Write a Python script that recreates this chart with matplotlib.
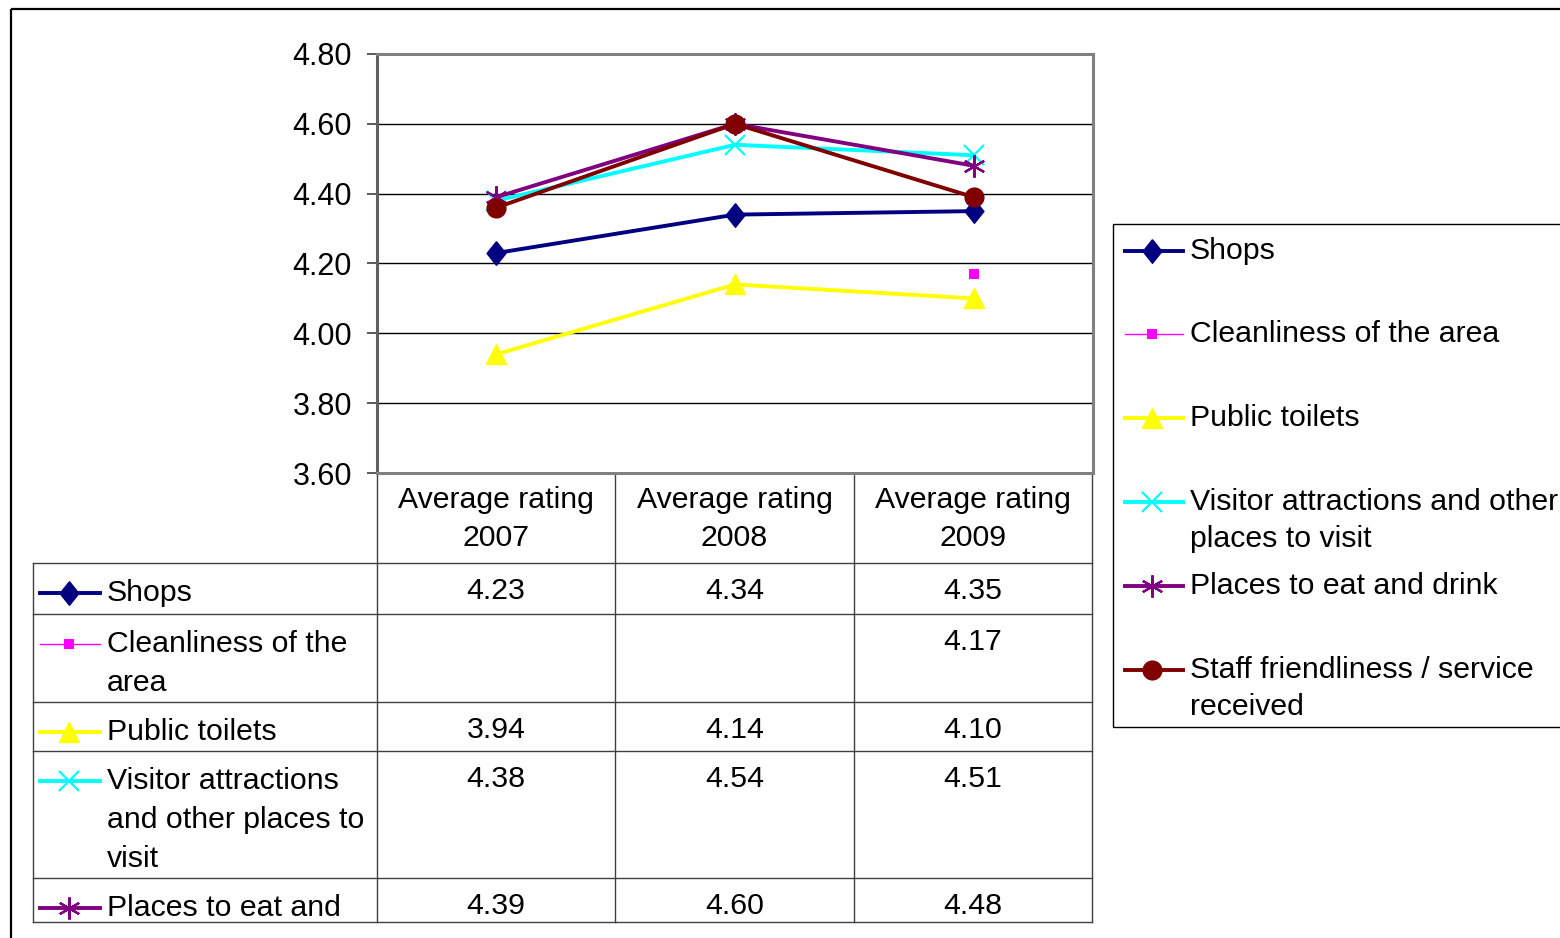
import numpy as np
import matplotlib
matplotlib.use("Agg")
import matplotlib.pyplot as plt
from matplotlib.patches import Rectangle

plt.rcParams['font.family'] = ['Liberation Sans', 'DejaVu Sans']

# data
years = ["2007", "2008", "2009"]
series_names = ["Shops", "Cleanliness of the area", "Public toilets",
                "Visitor attractions and other places to visit",
                "Places to eat and drink", "Staff friendliness / service received"]
shops = [4.23, 4.34, 4.35]
cleanliness = [np.nan, np.nan, 4.17]
toilets = [3.94, 4.14, 4.10]
visitor = [4.38, 4.54, 4.51]
eat_drink = [4.39, 4.60, 4.48]
staff = [4.36, 4.60, 4.39]
yticks = [3.6, 3.8, 4.0, 4.2, 4.4, 4.6, 4.8]

all_values = [shops, cleanliness, toilets, visitor, eat_drink, staff]

# styles (Excel-like)
diamond = [(0, 1), (0.8, 0), (0, -1), (-0.8, 0), (0, 1)]
styles = [
    dict(color="#000080", marker=diamond, ms=17, lw=2.8, mew=1),
    dict(color="#FF00FF", marker="s", ms=6.5, lw=1, mew=0),
    dict(color="#FFFF00", marker="^", ms=14, lw=2.8, mew=1),
    dict(color="#00FFFF", marker="x", ms=14, lw=2.8, mew=1.6),
    dict(color="#800080", marker=(6, 2, 0), ms=16, lw=2.8, mew=1.6),
    dict(color="#800000", marker="o", ms=14.5, lw=2.8, mew=0),
]

W, H = 1560, 938
fig = plt.figure(figsize=(W / 100, H / 100), dpi=100)

# overlay in pixel coordinates for frame, table and legend
ov = fig.add_axes([0, 0, 1, 1], zorder=0)
ov.set_xlim(0, W)
ov.set_ylim(H, 0)
ov.axis("off")

# main plot area
x0, x1, y0, y1 = 377, 1093, 54, 473
ax = fig.add_axes([x0 / W, 1 - y1 / H, (x1 - x0) / W, (y1 - y0) / H], zorder=2)
ax.set_facecolor("none")
x = np.arange(len(years))
for vals, st in zip(all_values, styles):
    ax.plot(x, vals, color=st["color"], lw=st["lw"], marker=st["marker"],
            ms=st["ms"], mew=st["mew"], mec=st["color"], mfc=st["color"],
            clip_on=False, zorder=3)
ax.set_xlim(-0.5, 2.5)
ax.set_ylim(3.6, 4.8)
ax.set_yticks(yticks)
ax.set_yticklabels([f"{v:.2f}" for v in yticks])
ax.yaxis.grid(True, color="black", lw=1)
ax.set_axisbelow(True)
ax.set_xticks([])
ax.tick_params(axis="y", length=7, width=1.2, pad=11, labelsize=22, color="#404040")
for side in ["top", "right", "bottom"]:
    ax.spines[side].set_color("#808080")
    ax.spines[side].set_linewidth(2.2)
ax.spines["left"].set_color("#606060")
ax.spines["left"].set_linewidth(2.2)

# outer frame
ov.add_patch(Rectangle((11, 9), 1700, 1100, fill=False, ec="black", lw=1.6))

# data table
fs = 21.8
col_edges = [377, 615, 854, 1092]
row_edges = [563, 614, 702, 751, 878, 922]
table_labels = ["Shops", "Cleanliness of the\narea", "Public toilets",
                "Visitor attractions\nand other places to\nvisit", "Places to eat and"]

for xe in col_edges:
    ov.plot([xe, xe], [473, 922], color="#404040", lw=1)
ov.plot([33, 33], [563, 922], color="#404040", lw=1)
for ye in row_edges:
    ov.plot([33, 1092], [ye, ye], color="#404040", lw=1)

for j, yr in enumerate(years):
    cx = (col_edges[j] + col_edges[j + 1]) / 2
    ov.text(cx, 500, "Average rating", ha="center", va="center", fontsize=fs)
    ov.text(cx, 538, yr, ha="center", va="center", fontsize=fs)

for i, label in enumerate(table_labels):
    top = row_edges[i]
    st = styles[i]
    ov.plot([40, 100], [top + 30, top + 30], color=st["color"], lw=st["lw"])
    ov.plot([69], [top + 30], marker=st["marker"], ms=st["ms"], mew=st["mew"],
            color=st["color"], mec=st["color"])
    for k, ln in enumerate(label.split("\n")):
        ov.text(107, top + 30 + 39 * k, ln, ha="left", va="center", fontsize=fs)
    for j in range(len(years)):
        v = all_values[i][j]
        if not np.isnan(v):
            cx = (col_edges[j] + col_edges[j + 1]) / 2
            ov.text(cx, top + 28, f"{v:.2f}", ha="center", va="center", fontsize=fs)

# legend box
ov.add_patch(Rectangle((1113, 224), 600, 503, fill=False, ec="black", lw=1))
legend_rows = [251, 334, 418, 502, 586, 670]
legend_labels = ["Shops", "Cleanliness of the area", "Public toilets",
                 "Visitor attractions and other\nplaces to visit",
                 "Places to eat and drink", "Staff friendliness / service\nreceived"]
for i, label in enumerate(legend_labels):
    yy = legend_rows[i]
    st = styles[i]
    ov.plot([1125, 1183], [yy, yy], color=st["color"], lw=st["lw"])
    ov.plot([1152], [yy], marker=st["marker"], ms=st["ms"], mew=st["mew"],
            color=st["color"], mec=st["color"])
    for k, ln in enumerate(label.split("\n")):
        ov.text(1190, yy + 37 * k, ln, ha="left", va="center", fontsize=fs)

fig.savefig("out.png", dpi=100)
